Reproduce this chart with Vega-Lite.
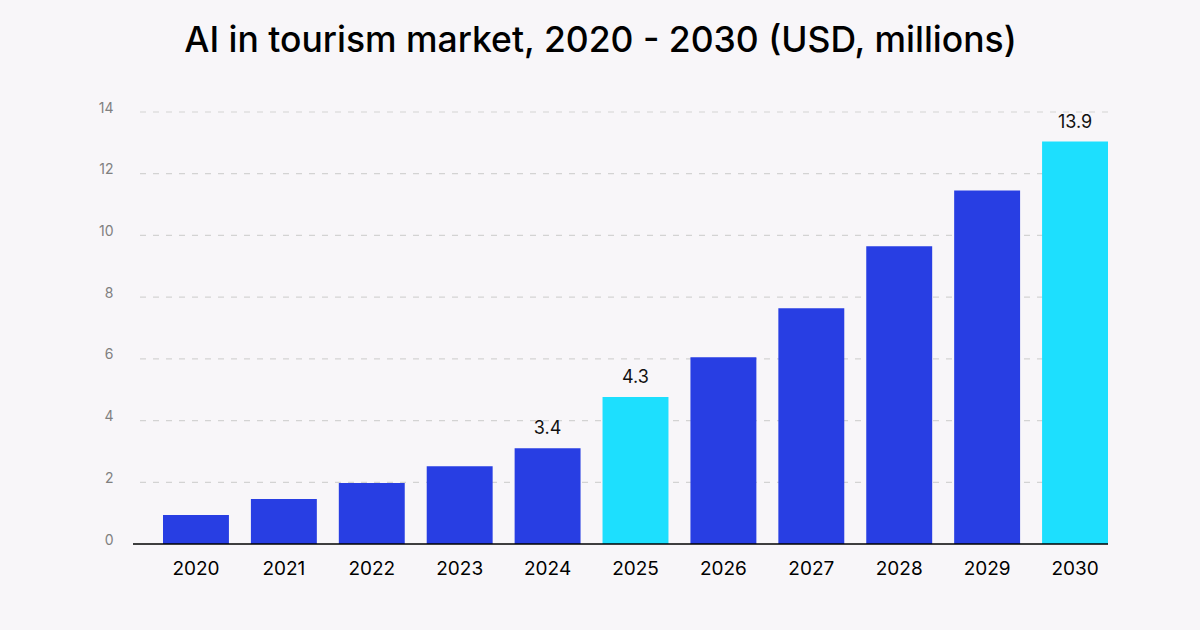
{
  "$schema": "https://vega.github.io/schema/vega-lite/v6.json",
  "autosize": "none",
  "width": 975,
  "height": 432,
  "padding": {"left": 133, "top": 112, "right": 92, "bottom": 86},
  "background": "#f8f6f9",
  "title": {
    "text": "AI in tourism market, 2020 - 2030 (USD, millions)",
    "font": "Inter",
    "fontSize": 35.5,
    "fontWeight": 500,
    "color": "#000000",
    "anchor": "middle",
    "frame": "group",
    "dx": -20,
    "baseline": "alphabetic",
    "offset": 14
  },
  "datasets": {
    "bars": [
      {"year": "2020", "value": 0.94, "label": "", "highlight": "no"},
      {"year": "2021", "value": 1.46, "label": "", "highlight": "no"},
      {"year": "2022", "value": 1.98, "label": "", "highlight": "no"},
      {"year": "2023", "value": 2.52, "label": "", "highlight": "no"},
      {"year": "2024", "value": 3.1, "label": "3.4", "highlight": "no"},
      {"year": "2025", "value": 4.76, "label": "4.3", "highlight": "yes"},
      {"year": "2026", "value": 6.05, "label": "", "highlight": "no"},
      {"year": "2027", "value": 7.64, "label": "", "highlight": "no"},
      {"year": "2028", "value": 9.65, "label": "", "highlight": "no"},
      {"year": "2029", "value": 11.46, "label": "", "highlight": "no"},
      {"year": "2030", "value": 13.04, "label": "13.9", "highlight": "yes"}
    ],
    "grid": [
      {"tick": 2}, {"tick": 4}, {"tick": 6}, {"tick": 8},
      {"tick": 10}, {"tick": 12}, {"tick": 14}
    ],
    "base": [
      {"tick": 0}
    ]
  },
  "layer": [
    {
      "data": {"name": "grid"},
      "mark": {"type": "rule", "color": "#d3d3d3", "strokeWidth": 1.2, "strokeDash": [6, 7]},
      "encoding": {
        "y": {
          "field": "tick",
          "type": "quantitative",
          "scale": {"domain": [0, 14], "nice": false},
          "axis": {
            "title": null,
            "values": [0, 2, 4, 6, 8, 10, 12, 14],
            "domain": false,
            "ticks": false,
            "grid": false,
            "labelFont": "Inter",
            "labelFontSize": 14,
            "labelColor": "#808080",
            "labelBaseline": "alphabetic",
            "labelPadding": 20
          }
        }
      }
    },
    {
      "data": {"name": "bars"},
      "mark": {"type": "bar"},
      "encoding": {
        "x": {
          "field": "year",
          "type": "ordinal",
          "sort": null,
          "scale": {"range": [30, 975], "paddingInner": 0.25, "paddingOuter": 0},
          "axis": {
            "title": null,
            "ticks": false,
            "domain": false,
            "labelFont": "Inter",
            "labelFontSize": 19,
            "labelColor": "#000000",
            "labelBaseline": "alphabetic",
            "labelPadding": 30,
            "labelAngle": 0
          }
        },
        "y": {"field": "value", "type": "quantitative"},
        "color": {
          "field": "highlight",
          "type": "nominal",
          "scale": {"domain": ["no", "yes"], "range": ["#283ee3", "#1ddffe"]},
          "legend": null
        }
      }
    },
    {
      "data": {"name": "base"},
      "mark": {"type": "rule", "color": "#000000", "strokeWidth": 1.5},
      "encoding": {
        "y": {"field": "tick", "type": "quantitative"}
      }
    },
    {
      "data": {"name": "bars"},
      "mark": {
        "type": "text",
        "font": "Inter",
        "fontSize": 18,
        "color": "#111111",
        "baseline": "alphabetic",
        "dy": -14
      },
      "encoding": {
        "x": {"field": "year", "type": "ordinal", "sort": null},
        "y": {"field": "value", "type": "quantitative"},
        "text": {"field": "label"}
      }
    }
  ],
  "config": {
    "view": {"stroke": null}
  }
}
